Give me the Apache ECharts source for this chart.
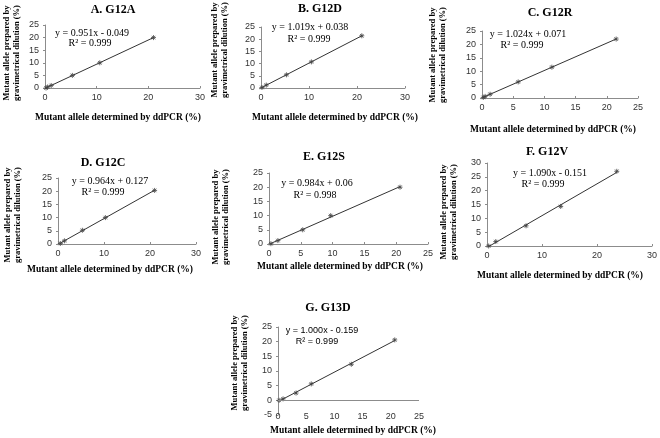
<!DOCTYPE html>
<html><head><meta charset="utf-8">
<script src="https://cdn.jsdelivr.net/npm/echarts@6/dist/echarts.min.js"></script>
<style>html,body{margin:0;padding:0;background:#fff}#c{width:660px;height:438px}</style>
</head><body><div id="c"></div>
<script>
// ---- data ----
const titles = ['A. G12A','B. G12D','C. G12R','D. G12C','E. G12S','F. G12V','G. G13D'];
const equations = ['y = 0.951x - 0.049','y = 1.019x + 0.038','y = 1.024x + 0.071','y = 0.964x + 0.127','y = 0.984x + 0.06','y = 1.090x - 0.151','y = 1.000x - 0.159'];
const rSquared = ['R² = 0.999','R² = 0.999','R² = 0.999','R² = 0.999','R² = 0.998','R² = 0.999','R² = 0.999'];
const aX = [0.2, 0.5, 1.2, 5.3, 10.6, 21.0];
const aY = [0.0, 0.4, 1.0, 5.0, 10.0, 20.0];
const bX = [0.2, 1.1, 5.3, 10.5, 21.0];
const bY = [0.2, 1.2, 5.4, 10.7, 21.4];
const cX = [0.2, 0.5, 1.3, 5.8, 11.2, 21.5];
const cY = [0.2, 0.6, 1.4, 6.0, 11.5, 22.0];
const dX = [0.5, 1.4, 5.3, 10.3, 21.0];
const dY = [0.2, 1.2, 5.2, 10.0, 20.3];
const eX = [0.3, 1.4, 5.3, 9.7, 20.6];
const eY = [0.1, 1.2, 5.0, 10.0, 20.0];
const fX = [0.3, 1.6, 7.1, 13.4, 23.6];
const fY = [0.0, 1.6, 7.3, 14.3, 27.0];
const gX = [0.2, 0.9, 3.2, 5.9, 13.0, 20.7];
const gY = [0.0, 0.5, 2.5, 5.6, 12.3, 20.6];
const xMax = [30, 30, 25, 30, 25, 30, 25];
const xStep = [10, 10, 5, 10, 5, 10, 5];
const yMin = [0, 0, 0, 0, 0, 0, -5];
const yMax = [25, 25, 25, 25, 25, 30, 25];
const yStep = [5, 5, 5, 5, 5, 5, 5];
const xTitle = 'Mutant allele determined by ddPCR (%)';
const yTitle = 'Mutant allele prepared by\ngravimetrical dilution (%)';

const xs = [aX,bX,cX,dX,eX,fX,gX];
const ys = [aY,bY,cY,dY,eY,fY,gY];

// ---- layout ----
const grids = [
  {left:45, top:25, w:155, h:63},
  {left:261, top:27, w:144, h:61},
  {left:482, top:31, w:156, h:67},
  {left:58, top:178, w:138, h:66},
  {left:269, top:173, w:159, h:71},
  {left:487, top:163, w:171, h:83},
  {left:278, top:327, w:141, h:88}
];
const xLabelMargin = [5, 5, 5, 5, 5, 5, -3];
const titlePos = [[113,10],[320,9],[550,13],[103,163],[324,157],[547,152],[328,308]];
const eqPos = [[92,33],[310,27],[528,34],[110,181],[317,183],[550,173],[322,331]];
const r2Pos = [[90,43],[309,39],[522,45],[103,192],[315,195],[543,184],[317,342]];
const xNamePos = [[118,118],[335,118],[553,130],[110,270],[340,267],[560,276],[353,431]];
const yNamePos = [[12,53],[220,50],[438,55],[13,215],[221,217],[449,212],[240,363]];

function fit(x, y) {
  const n = x.length;
  let sx=0, sy=0, sxx=0, sxy=0;
  for (let i=0;i<n;i++){sx+=x[i];sy+=y[i];sxx+=x[i]*x[i];sxy+=x[i]*y[i];}
  const m = (n*sxy - sx*sy)/(n*sxx - sx*sx);
  const b = (sy - m*sx)/n;
  const x0 = Math.min(...x), x1 = Math.max(...x);
  return [[x0, m*x0+b],[x1, m*x1+b]];
}

const serif = 'Liberation Serif';
const sans = 'Liberation Sans';
const star = 'path://M0,-5L0,5M-5,0L5,0M-3.5,-3.5L3.5,3.5M-3.5,3.5L3.5,-3.5';

const option = {
  animation:false,
  backgroundColor:'#fff',
  grid:[], xAxis:[], yAxis:[], series:[], graphic:[]
};

for (let i=0;i<7;i++){
  const g = grids[i];
  option.grid.push({left:g.left, top:g.top, width:g.w, height:g.h, containLabel:false});
  option.xAxis.push({
    type:'value', gridIndex:i, min:0, max:xMax[i], interval:xStep[i],
    splitLine:{show:false},
    axisLine:{show:yMin[i]===0, onZero:false, lineStyle:{color:'#8c8c8c', width:1}},
    axisTick:{show:yMin[i]===0, inside:true, length:2, lineStyle:{color:'#8c8c8c'}},
    axisLabel:{fontFamily:sans, fontSize:9, color:'#333', margin:xLabelMargin[i]}
  });
  option.yAxis.push({
    type:'value', gridIndex:i, min:yMin[i], max:yMax[i], interval:yStep[i],
    splitLine:{show:false},
    axisLine:{show:true, onZero:false, lineStyle:{color:'#8c8c8c', width:1}},
    axisTick:{show:true, inside:false, length:2, lineStyle:{color:'#8c8c8c'}},
    axisLabel:{fontFamily:sans, fontSize:9, color:'#333', margin:6}
  });
  const pts = xs[i].map((v,k)=>[v, ys[i][k]]);
  option.series.push({
    type:'scatter', xAxisIndex:i, yAxisIndex:i, data:pts,
    symbol:star, symbolSize:5, z:3,
    itemStyle:{color:'#444', borderColor:'#444', borderWidth:1}
  });
  const lineSeries = {
    type:'line', xAxisIndex:i, yAxisIndex:i, data:fit(xs[i], ys[i]),
    showSymbol:false, symbol:'none', z:2,
    lineStyle:{color:'#333', width:1}
  };
  if (yMin[i] < 0) {
    lineSeries.markLine = {silent:true, symbol:'none', label:{show:false},
      lineStyle:{color:'#8c8c8c', width:1, type:'solid'}, data:[{yAxis:0}]};
  }
  option.series.push(lineSeries);

  const eqFont = i===6 ? sans : serif;
  const eqSize = i===6 ? 9 : 10;
  option.graphic.push(
    {type:'text', x:titlePos[i][0], y:titlePos[i][1], style:{text:titles[i], font:'bold 12px '+serif, fill:'#000', align:'center', verticalAlign:'middle'}},
    {type:'text', x:eqPos[i][0], y:eqPos[i][1], style:{text:equations[i], font:eqSize+'px '+eqFont, fill:'#000', align:'center', verticalAlign:'middle'}},
    {type:'text', x:r2Pos[i][0], y:r2Pos[i][1], style:{text:rSquared[i], font:eqSize+'px '+eqFont, fill:'#000', align:'center', verticalAlign:'middle'}},
    {type:'text', x:xNamePos[i][0], y:xNamePos[i][1], style:{text:xTitle, font:'bold 9.5px '+serif, fill:'#000', align:'center', verticalAlign:'middle'}},
    {type:'text', x:yNamePos[i][0], y:yNamePos[i][1], rotation:Math.PI/2, style:{text:yTitle, font:'bold 8.5px '+serif, fill:'#000', align:'center', verticalAlign:'middle', lineHeight:10}}
  );
}

const chart = echarts.init(document.getElementById('c'), null, {renderer:'canvas'});
chart.setOption(option);
</script>
</body></html>
